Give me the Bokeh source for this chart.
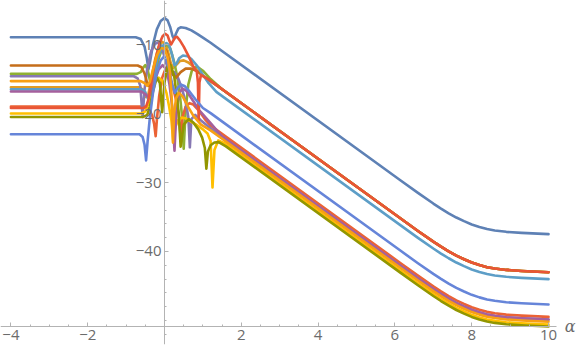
from bokeh.plotting import figure
from bokeh.models import Range1d, FixedTicker, Label
from bokeh.embed import file_html
from bokeh.resources import INLINE

# ---- data ----
colors = ["#5E81B5", "#E19C24", "#8FB032", "#EB6235", "#8778B3", "#C56E1A",
          "#5D9EC7", "#FFBF00", "#A5609D", "#929600", "#E95536", "#6685D9", "#F89F13"]

# common x positions of the right-hand tails (knee towards the plateau)
tail_x = [6.15, 6.6, 7.0, 7.2, 7.4, 7.6, 7.8, 8.0, 8.2, 8.4, 8.6, 8.9, 9.3, 10]

c1_x = [-4, -0.75, -0.62, -0.52, -0.46, -0.42, -0.37, -0.3, -0.2, -0.1, 0.0, 0.08, 0.15, 0.21, 0.25, 0.3, 0.36, 0.42, 0.55, 0.7, 0.85, 1.0, 1.2]
c1_y = [-8.94, -8.95, -9.2, -10.3, -12.0, -13.6, -12.3, -10.0, -7.8, -6.6, -6.15, -6.5, -7.5, -8.8, -9.2, -8.4, -7.7, -7.5, -7.6, -7.95, -8.45, -9.0, -9.75]
c1_tail = [-29.7, -31.5, -33.05, -33.78, -34.46, -35.08, -35.6, -36.08, -36.45, -36.75, -36.95, -37.15, -37.3, -37.48]

c2_x = [-4, -0.65, -0.55, -0.48, -0.42, -0.35, -0.25, -0.15, -0.06, 0.03, 0.1, 0.16, 0.22, 0.3, 0.4, 0.5, 0.62, 0.75, 0.9, 1.1, 1.4]
c2_y = [-16.2, -16.2, -16.6, -17.6, -17.2, -15.2, -12.3, -10.3, -9.6, -10.0, -11.2, -12.6, -13.4, -13.0, -12.4, -12.3, -12.6, -13.2, -14.0, -15.0, -16.08]
c2_tail = [-35.22, -37.02, -38.57, -39.3, -39.98, -40.6, -41.12, -41.6, -41.97, -42.27, -42.47, -42.67, -42.82, -43.0]

c3_x = [-4, -0.72, -0.62, -0.55, -0.5, -0.44, -0.38, -0.32, -0.25, -0.15, -0.05, 0.07, 0.15, 0.25, 0.33, 0.4, 0.45, 0.5, 0.55, 0.62, 0.72, 0.85, 1.0, 1.2, 1.5]
c3_y = [-14.25, -14.25, -14.0, -13.3, -13.0, -13.6, -15.2, -16.4, -15.0, -12.0, -10.4, -10.0, -10.6, -12.5, -14.6, -17.3, -20.0, -25.1, -19.5, -15.8, -13.6, -13.2, -13.8, -15.0, -16.48]
c3_tail = [-35.22, -37.02, -38.57, -39.3, -39.98, -40.6, -41.12, -41.6, -41.97, -42.27, -42.47, -42.67, -42.82, -43.0]

c4_x = [-4, -0.5, -0.4, -0.32, -0.27, -0.23, -0.2, -0.14, -0.06, 0.02, 0.1, 0.2, 0.3, 0.37, 0.42, 0.47, 0.55, 0.65, 0.75, 0.9, 1.05, 1.2]
c4_y = [-19.0, -19.0, -19.4, -20.3, -21.5, -23.3, -21.0, -17.5, -14.8, -13.6, -14.2, -15.8, -18.0, -20.2, -23.4, -20.5, -19.0, -18.5, -18.7, -19.6, -20.8, -21.75]
c4_tail = [-41.7, -43.5, -45.05, -45.78, -46.46, -47.08, -47.6, -48.08, -48.45, -48.75, -48.95, -49.15, -49.3, -49.48]

c5_x = [-4, -0.8, -0.7, -0.63, -0.57, -0.52, -0.45, -0.35, -0.25, -0.17, -0.08, 0.0, 0.08, 0.15, 0.25, 0.35, 0.45, 0.55, 0.62, 0.66, 0.7, 0.8, 0.95, 1.2]
c5_y = [-14.6, -14.6, -14.9, -16.0, -20.5, -16.5, -13.5, -11.0, -9.9, -9.7, -10.3, -11.8, -13.4, -14.2, -14.0, -14.8, -16.3, -18.3, -20.5, -24.9, -20.8, -20.2, -21.0, -22.15]
c5_tail = [-42.1, -43.9, -45.45, -46.18, -46.86, -47.48, -48.0, -48.48, -48.85, -49.15, -49.35, -49.55, -49.7, -49.88]

c6_x = [-4, -0.7, -0.6, -0.52, -0.45, -0.4, -0.32, -0.22, -0.12, -0.04, 0.05, 0.13, 0.2, 0.3, 0.42, 0.55, 0.7, 0.85, 1.0, 1.3]
c6_y = [-13.04, -13.04, -13.3, -14.2, -15.6, -16.0, -14.8, -12.4, -10.8, -10.4, -10.9, -12.6, -14.3, -14.8, -14.0, -13.5, -13.5, -13.9, -14.5, -15.67]
c6_tail = [-35.22, -37.02, -38.57, -39.3, -39.98, -40.6, -41.12, -41.6, -41.97, -42.27, -42.47, -42.67, -42.82, -43.0]

c7_x = [-4, -0.6, -0.5, -0.42, -0.36, -0.28, -0.18, -0.05, 0.05, 0.12, 0.2, 0.26, 0.31, 0.38, 0.48, 0.6, 0.7, 0.85, 1.0, 1.15, 1.35, 1.6]
c7_y = [-16.5, -16.5, -16.9, -18.0, -17.2, -14.5, -12.0, -10.2, -9.8, -10.1, -11.5, -13.0, -12.8, -12.0, -11.6, -11.7, -12.1, -13.1, -14.4, -15.6, -16.87, -17.88]
c7_tail = [-36.22, -38.02, -39.57, -40.3, -40.98, -41.6, -42.12, -42.6, -42.97, -43.27, -43.47, -43.67, -43.82, -44.0]

c8_x = [-4, -0.6, -0.5, -0.42, -0.34, -0.25, -0.15, -0.05, 0.05, 0.12, 0.18, 0.23, 0.28, 0.35, 0.45, 0.55, 0.7, 0.85, 1.0, 1.12, 1.2, 1.25, 1.3, 1.4, 1.55]
c8_y = [-20.0, -20.0, -19.7, -18.6, -16.8, -15.3, -14.8, -15.3, -17.0, -19.0, -21.0, -24.2, -22.0, -21.0, -20.6, -20.7, -21.2, -21.7, -22.3, -22.9, -24.0, -30.7, -25.3, -23.9, -24.26]
c8_tail = [-42.8, -44.6, -46.15, -46.88, -47.56, -48.18, -48.7, -49.18, -49.55, -49.85, -50.05, -50.25, -50.4, -50.58]

c9_x = [-4, -0.6, -0.5, -0.42, -0.35, -0.25, -0.15, -0.05, 0.05, 0.13, 0.2, 0.26, 0.31, 0.38, 0.47, 0.57, 0.7, 0.9, 1.2, 1.5]
c9_y = [-16.8, -16.8, -17.2, -17.6, -17.0, -15.2, -13.6, -13.0, -13.6, -15.8, -19.0, -25.4, -19.5, -17.0, -16.4, -16.7, -17.8, -19.5, -21.4, -23.33]
c9_tail = [-42.07, -43.87, -45.42, -46.15, -46.83, -47.45, -47.97, -48.45, -48.82, -49.12, -49.32, -49.52, -49.67, -49.85]

c10_x = [-4, -0.55, -0.45, -0.38, -0.3, -0.2, -0.12, -0.06, 0.0, 0.08, 0.16, 0.25, 0.32, 0.37, 0.42, 0.5, 0.63, 0.75, 0.88, 0.98, 1.05, 1.09, 1.13, 1.2, 1.3, 1.41, 1.6]
c10_y = [-20.5, -20.5, -20.2, -19.0, -16.8, -14.8, -15.6, -19.8, -15.5, -13.2, -13.0, -14.5, -17.5, -20.0, -24.8, -21.6, -20.8, -21.3, -22.3, -23.5, -25.0, -28.0, -25.5, -24.6, -24.2, -24.15, -24.76]
c10_tail = [-43.1, -44.9, -46.45, -47.18, -47.86, -48.48, -49.0, -49.48, -49.85, -50.15, -50.35, -50.55, -50.7, -50.88]

c11_x = [-4, -0.55, -0.48, -0.42, -0.35, -0.27, -0.2, -0.12, -0.05, 0.02, 0.08, 0.13, 0.17, 0.21, 0.27, 0.33, 0.4, 0.5, 0.62, 0.75, 0.84, 0.87, 0.89, 0.91, 0.95, 1.2]
c11_y = [-19.2, -19.2, -19.0, -18.0, -15.8, -13.2, -11.35, -9.7, -8.8, -8.45, -8.7, -9.5, -10.0, -9.6, -9.0, -8.9, -9.4, -10.3, -11.6, -13.2, -13.9, -15.5, -21.0, -15.5, -14.4, -15.27]
c11_tail = [-35.22, -37.02, -38.57, -39.3, -39.98, -40.6, -41.12, -41.6, -41.97, -42.27, -42.47, -42.67, -42.82, -43.0]

c12_x = [-4, -0.65, -0.57, -0.52, -0.48, -0.44, -0.38, -0.3, -0.2, -0.1, -0.02, 0.05, 0.12, 0.2, 0.27, 0.34, 0.42, 0.52, 0.65, 0.8, 1.0, 1.2]
c12_y = [-23.0, -23.0, -23.4, -24.5, -26.8, -24.0, -20.5, -17.0, -14.0, -12.3, -11.8, -12.2, -13.5, -15.8, -17.0, -16.3, -15.8, -16.0, -16.8, -17.9, -19.2, -19.95]
c12_tail = [-39.9, -41.7, -43.25, -43.98, -44.66, -45.28, -45.8, -46.28, -46.65, -46.95, -47.15, -47.35, -47.5, -47.68]

c13_x = [-4, -0.62, -0.52, -0.45, -0.38, -0.3, -0.2, -0.1, 0.0, 0.08, 0.14, 0.19, 0.22, 0.25, 0.3, 0.38, 0.48, 0.6, 0.75, 0.95, 1.2, 1.5]
c13_y = [-15.3, -15.3, -15.6, -16.0, -15.4, -13.6, -11.6, -10.5, -10.6, -11.8, -14.0, -18.0, -24.2, -20.0, -17.8, -17.0, -17.6, -18.9, -20.3, -21.6, -22.45, -23.66]
c13_tail = [-42.4, -44.2, -45.75, -46.48, -47.16, -47.78, -48.3, -48.78, -49.15, -49.45, -49.65, -49.85, -50.0, -50.18]

x_major_ticks = [-4, -2, 2, 4, 6, 8, 10]
y_major_ticks = [-40, -30, -20, -10]
x_axis_at = -50.9
x_label = "α"

curves = [(c1_x, c1_y, c1_tail), (c2_x, c2_y, c2_tail), (c3_x, c3_y, c3_tail),
          (c4_x, c4_y, c4_tail), (c5_x, c5_y, c5_tail), (c6_x, c6_y, c6_tail),
          (c7_x, c7_y, c7_tail), (c8_x, c8_y, c8_tail), (c9_x, c9_y, c9_tail),
          (c10_x, c10_y, c10_tail), (c11_x, c11_y, c11_tail), (c12_x, c12_y, c12_tail),
          (c13_x, c13_y, c13_tail)]

# ---- figure ----
p = figure(frame_width=581, frame_height=344, output_backend="svg", toolbar_location=None,
           x_range=Range1d(-4.271, 10.859), y_range=Range1d(-53.48, -3.62),
           min_border_left=0, min_border_top=0, min_border_bottom=8, min_border_right=0,
           background_fill_color="white", border_fill_color="white")
p.outline_line_color = None
p.grid.visible = False

for (xs, ys, tail), col in zip(curves, colors):
    p.line(xs + tail_x, ys + tail, line_color=col, line_width=2.6,
           line_join="round", line_cap="round")

axis_col = "#b3b3b3"
label_col = "#6b6b6b"

x_minor = [v / 2 for v in range(-8, 21) if v % 4 != 0]
y_minor = [v for v in range(-52, -3, 2) if v % 10 != 0] + [-50]

p.xaxis.fixed_location = x_axis_at
p.yaxis.fixed_location = 0
p.xaxis.bounds = (-4.271, 10.21)
p.xaxis.ticker = FixedTicker(ticks=x_major_ticks, minor_ticks=x_minor)
p.yaxis.ticker = FixedTicker(ticks=y_major_ticks, minor_ticks=y_minor)
p.xaxis.major_label_overrides = {v: str(v).replace("-", "\u2212") for v in x_major_ticks}
p.yaxis.major_label_overrides = {v: str(v).replace("-", "\u2212") for v in y_major_ticks}

for ax in (p.xaxis[0], p.yaxis[0]):
    ax.axis_line_color = axis_col
    ax.axis_line_width = 1
    ax.major_tick_line_color = axis_col
    ax.minor_tick_line_color = axis_col
    ax.major_tick_in = 4
    ax.major_tick_out = 0
    ax.minor_tick_in = 2
    ax.minor_tick_out = 0
    ax.major_label_text_color = label_col
    ax.major_label_text_font = "Open Sans"
    ax.major_label_text_font_size = "15px"
    ax.major_label_standoff = 3

p.add_layout(Label(x=10.42, y=x_axis_at, text=x_label, text_font="DejaVu Serif",
                   text_font_style="italic", text_font_size="16px", text_color=label_col,
                   text_baseline="middle", text_align="left"))

open("out.html", "w").write(file_html(p, INLINE))
